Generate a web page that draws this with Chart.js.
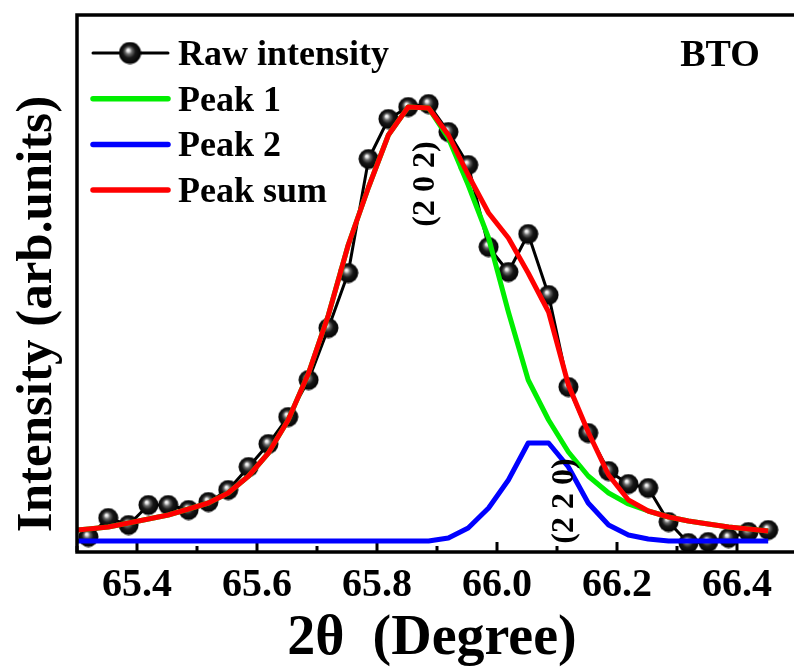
<!DOCTYPE html>
<html>
<head>
<meta charset="utf-8">
<script src="https://cdn.jsdelivr.net/npm/chart.js@4.4.1/dist/chart.umd.min.js"></script>
<style>
  html, body { margin: 0; padding: 0; background: #fff; overflow: hidden; }
  canvas { display: block; }
</style>
</head>
<body>
<canvas id="c" width="794" height="668"></canvas>
<script>
// measured 2theta positions (degree)
const twoTheta = [65.319, 65.352, 65.386, 65.419, 65.452, 65.486, 65.519, 65.552, 65.586, 65.619,
                  65.652, 65.686, 65.719, 65.752, 65.786, 65.819, 65.852, 65.886, 65.919, 65.952,
                  65.986, 66.019, 66.052, 66.086, 66.119, 66.152, 66.186, 66.219, 66.252, 66.286,
                  66.319, 66.352, 66.386, 66.419, 66.452];
const rawIntensity = [30, 68, 54, 94, 94, 84, 100, 124, 170, 216,
                      270, 344, 448, 558, 786, 866, 890, 896, 840, 774,
                      610, 560, 636, 514, 330, 238, 162, 136, 128, 60,
                      18, 20, 28, 40, 44];

// fitted curves, evaluated on the same grid plus the left edge
const fitTheta = [65.300, 65.319, 65.352, 65.386, 65.419, 65.452, 65.486, 65.519, 65.552, 65.586,
                  65.619, 65.652, 65.686, 65.719, 65.752, 65.786, 65.819, 65.852, 65.886, 65.919,
                  65.952, 65.986, 66.019, 66.052, 66.086, 66.119, 66.152, 66.186, 66.219, 66.252,
                  66.286, 66.319, 66.352, 66.386, 66.419, 66.452];
const peak1 = [44, 46, 50, 58, 66, 74, 86, 98, 118, 152,
               198, 264, 358, 474, 614, 730, 834, 890, 888, 828,
               734, 628, 480, 344, 264, 200, 152, 118, 96, 82,
               70, 62, 56, 50, 46, 42];
const peak2 = [22, 22, 22, 22, 22, 22, 22, 22, 22, 22,
               22, 22, 22, 22, 22, 22, 22, 22, 22, 28,
               48, 88, 144, 218, 218, 170, 98, 54, 34, 26,
               22, 22, 22, 22, 22, 22];
const peakSum = [44, 46, 50, 58, 66, 74, 86, 98, 118, 152,
                 198, 264, 358, 474, 614, 730, 834, 890, 888, 834,
                 754, 678, 628, 558, 480, 334, 240, 154, 104, 82,
                 70, 62, 56, 50, 46, 42];

// x ticks: every 0.1, labels on the even ones
const tickValues = [65.3, 65.4, 65.5, 65.6, 65.7, 65.8, 65.9, 66.0, 66.1, 66.2, 66.3, 66.4];
const tickLabels = ['', '65.4', '', '65.6', '', '65.8', '', '66.0', '', '66.2', '', '66.4'];

// the frame is cut off by the picture on the right
const xMin = 65.3, xMax = 66.495, yMax = 1074;
const serif = '"Liberation Serif", "Times New Roman", serif';

function pts(xs, ys) { return xs.map((x, i) => ({ x, y: ys[i] })); }

// shaded black ball marker
function makeBall(d) {
  const c = document.createElement('canvas');
  c.width = c.height = d;
  const g = c.getContext('2d');
  const r = d / 2;
  const grad = g.createRadialGradient(r - 2, r - 3, 0, r, r, r);
  grad.addColorStop(0, '#ffffff');
  grad.addColorStop(0.12, '#e8e8e8');
  grad.addColorStop(0.3, '#6a6a6a');
  grad.addColorStop(0.55, '#181818');
  grad.addColorStop(1, '#000000');
  g.fillStyle = grad;
  g.beginPath();
  g.arc(r, r, r - 0.5, 0, Math.PI * 2);
  g.fill();
  return c;
}
const ball = makeBall(21);
const legendBall = makeBall(23);

function rotText(ctx, text, x, y, font) {
  ctx.save();
  ctx.translate(x, y);
  ctx.rotate(-Math.PI / 2);
  ctx.font = font;
  ctx.textAlign = 'center';
  ctx.textBaseline = 'middle';
  ctx.fillText(text, 0, 0);
  ctx.restore();
}

const framePlugin = {
  id: 'frame',
  beforeDatasetsDraw(chart) {
    const { ctx, chartArea: a, scales: { x } } = chart;
    ctx.save();
    ctx.strokeStyle = '#000';
    ctx.lineWidth = 3;
    x.ticks.forEach((t, i) => {
      const px = x.getPixelForValue(t.value);
      ctx.beginPath();
      ctx.moveTo(px, a.bottom);
      ctx.lineTo(px, a.bottom - (tickLabels[i] ? 10 : 6));
      ctx.stroke();
    });
    ctx.restore();
  },
  afterDatasetsDraw(chart) {
    const { ctx, chartArea: a, width } = chart;
    ctx.save();
    // open frame: top, left and bottom only
    ctx.strokeStyle = '#000';
    ctx.lineWidth = 3.5;
    ctx.beginPath();
    ctx.moveTo(width + 5, a.top);
    ctx.lineTo(a.left, a.top);
    ctx.lineTo(a.left, a.bottom);
    ctx.lineTo(width + 5, a.bottom);
    ctx.stroke();

    // legend
    const ds = chart.data.datasets;
    ds.forEach((d, i) => {
      const yy = 53 + i * 45.7;
      ctx.strokeStyle = d.borderColor;
      ctx.lineWidth = d.borderWidth + (i ? 0.5 : 0);
      ctx.lineCap = 'round';
      ctx.beginPath();
      ctx.moveTo(93, yy);
      ctx.lineTo(168, yy);
      ctx.stroke();
      if (d.pointRadius) ctx.drawImage(legendBall, 130 - 11.5, yy - 11.5);
      ctx.fillStyle = '#000';
      ctx.font = 'bold 36px ' + serif;
      ctx.textAlign = 'left';
      ctx.textBaseline = 'alphabetic';
      ctx.fillText(d.label, 178, yy + 12);
    });

    ctx.fillStyle = '#000';
    ctx.font = 'bold 38px ' + serif;
    ctx.textAlign = 'center';
    ctx.fillText('BTO', 720, 66);

    rotText(ctx, '(2 0 2)', 426, 184, 'bold 32px ' + serif);
    rotText(ctx, '(2 2 0)', 565, 501, 'bold 32px ' + serif);

    // axis titles
    rotText(ctx, 'Intensity (arb.units)', 38, 314, 'bold 51px ' + serif);
    ctx.font = 'bold 56px ' + serif;
    ctx.textAlign = 'center';
    ctx.textBaseline = 'alphabetic';
    ctx.fillText('2\u03B8  (Degree)', 432, 654);
    ctx.restore();
  }
};

new Chart(document.getElementById('c'), {
  type: 'scatter',
  data: {
    datasets: [
      { label: 'Raw intensity', data: pts(twoTheta, rawIntensity), showLine: true,
        borderColor: '#000', borderWidth: 3, pointStyle: ball, pointRadius: 10, order: 3 },
      { label: 'Peak 1', data: pts(fitTheta, peak1), showLine: true,
        borderColor: '#00ee00', borderWidth: 5, pointRadius: 0, order: 2 },
      { label: 'Peak 2', data: pts(fitTheta, peak2), showLine: true,
        borderColor: '#0000ff', borderWidth: 5, pointRadius: 0, order: 1 },
      { label: 'Peak sum', data: pts(fitTheta, peakSum), showLine: true,
        borderColor: '#ff0000', borderWidth: 5, pointRadius: 0, order: 0 }
    ]
  },
  options: {
    responsive: false,
    animation: false,
    events: [],
    layout: { autoPadding: false, padding: { left: 77, top: 15, right: 0, bottom: 0 } },
    plugins: { legend: { display: false }, tooltip: { enabled: false } },
    elements: { line: { tension: 0, borderJoinStyle: 'round' } },
    scales: {
      x: {
        type: 'linear', min: xMin, max: xMax,
        grid: { display: false, drawTicks: false },
        border: { display: false },
        afterBuildTicks: s => { s.ticks = tickValues.map(value => ({ value })); },
        ticks: {
          autoSkip: false, maxRotation: 0, padding: 10,
          color: '#000', font: { family: serif, size: 40, weight: 'bold' },
          callback: (v, i) => tickLabels[i]
        },
        afterFit: s => { s.height = 116; s.paddingLeft = 0; s.paddingRight = 0; }
      },
      y: { display: false, min: 0, max: yMax }
    }
  },
  plugins: [framePlugin]
});
</script>
</body>
</html>
